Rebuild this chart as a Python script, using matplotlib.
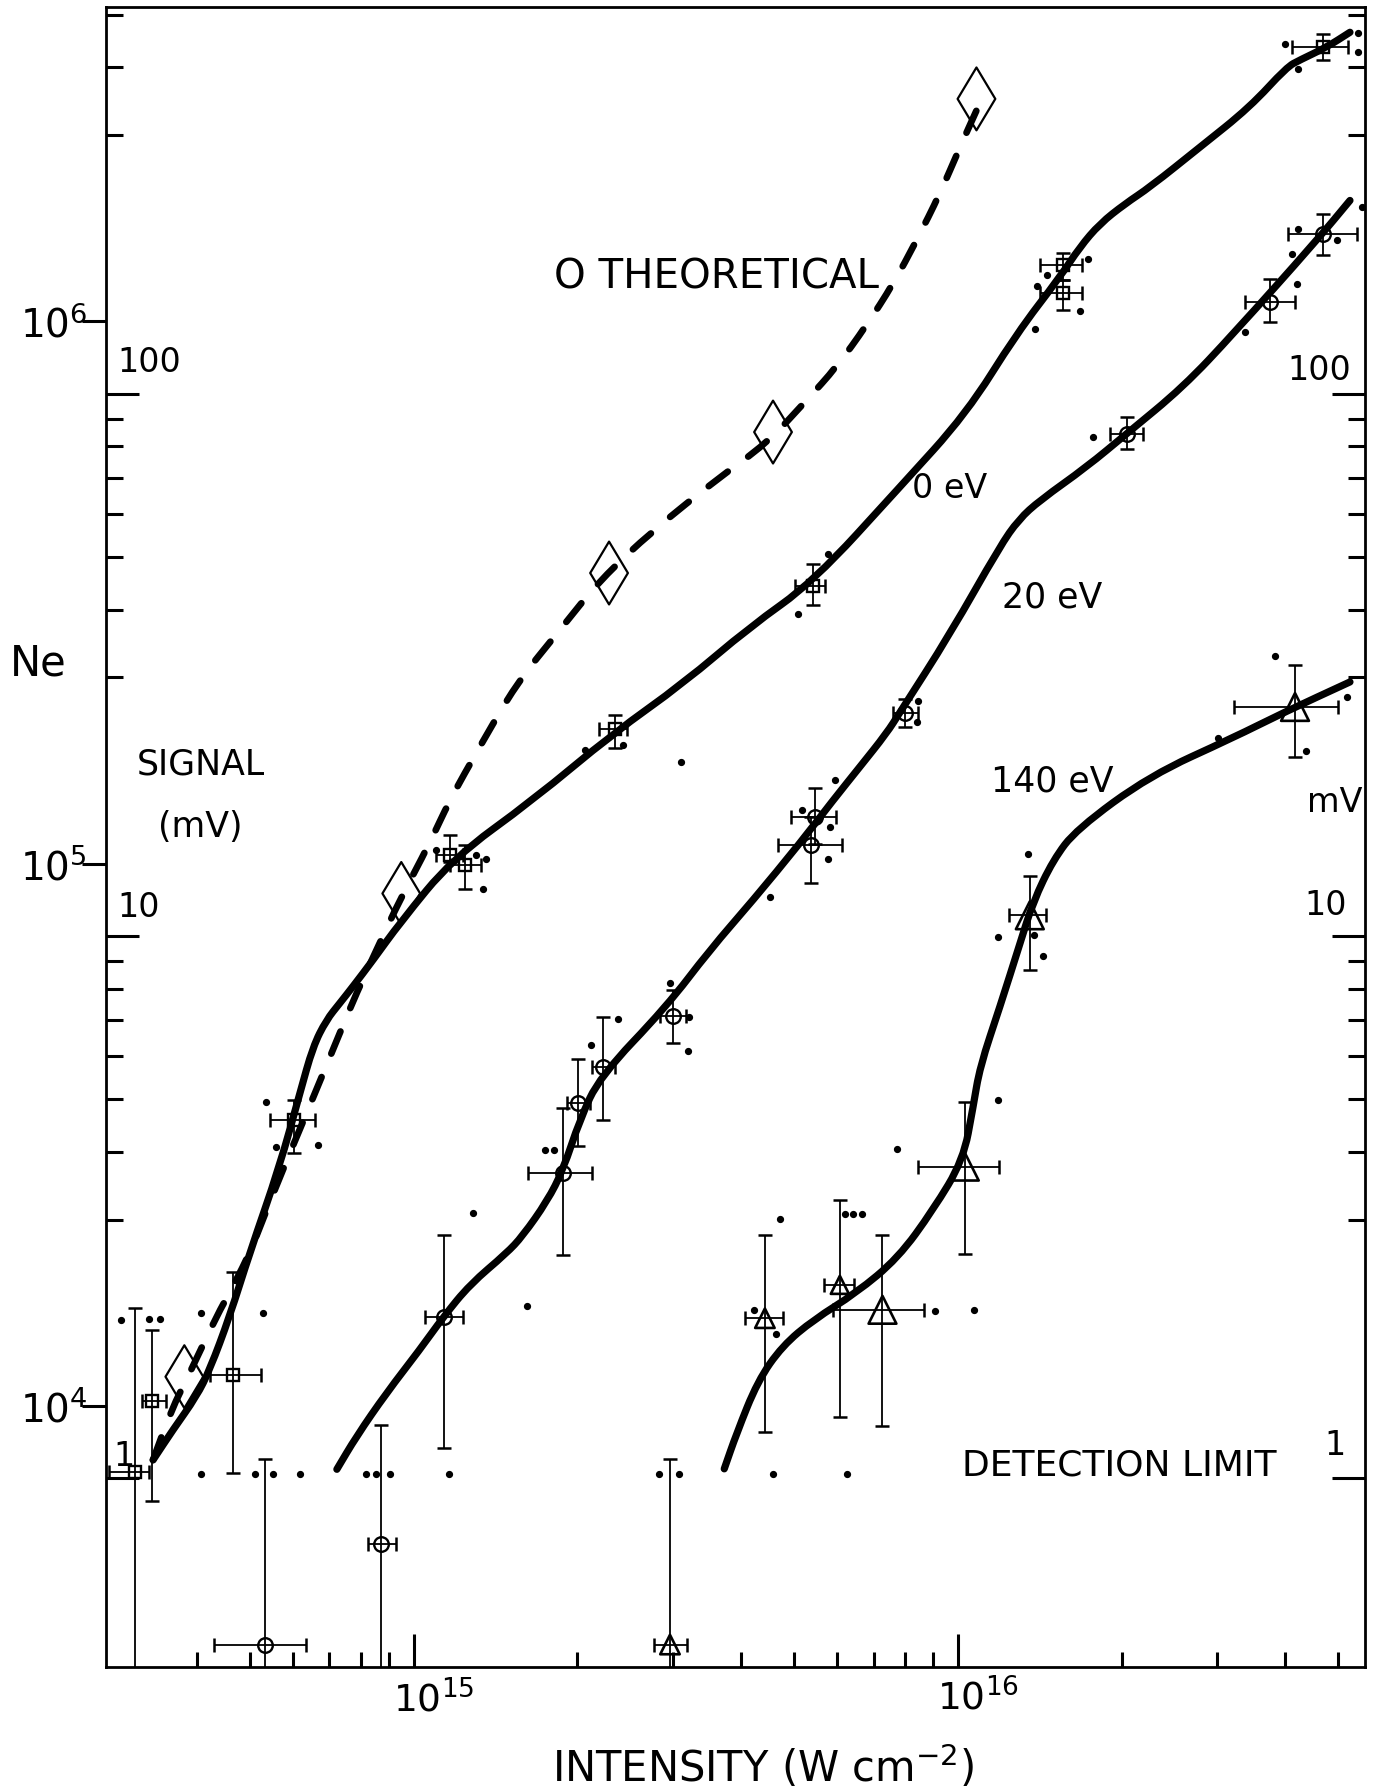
import matplotlib
matplotlib.use("Agg")
import numpy as np
import matplotlib.pyplot as plt
import matplotlib.transforms as mtransforms
from matplotlib.path import Path
from matplotlib.patches import PathPatch
from matplotlib.ticker import FixedLocator, NullLocator, NullFormatter

plt.rcParams['font.family'] = ['DejaVu Sans']
plt.rcParams['mathtext.fontset'] = 'dejavusans'

# ---------------- data (intensity W/cm^2, number of electrons Ne) ----------------
# 0 eV  (squares)
sq_I   = [3.07e14, 3.30e14, 4.65e14, 6.02e14, 1.165e15, 1.241e15, 2.342e15, 5.42e15, 1.563e16, 1.563e16, 4.69e16]
sq_Ilo = [2.76e14, 3.17e14, 4.22e14, 5.44e14, 1.10e15, 1.165e15, 2.19e15, 5.02e15, 1.415e16, 1.415e16, 4.105e16]
sq_Ihi = [3.26e14, 3.50e14, 5.24e14, 6.58e14, 1.232e15, 1.332e15, 2.47e15, 5.69e15, 1.688e16, 1.688e16, 5.22e16]
sq_Ne  = [7.56e3, 1.02e4, 1.141e4, 3.37e4, 1.037e5, 9.94e4, 1.775e5, 3.25e5, 1.268e6, 1.128e6, 3.203e6]
sq_Nlo = [3.0e3, 6.67e3, 7.52e3, 2.93e4, 1.009e5, 8.98e4, 1.631e5, 3.00e5, 1.192e6, 1.048e6, 3.035e6]
sq_Nhi = [1.515e4, 1.38e4, 1.765e4, 3.67e4, 1.128e5, 1.081e5, 1.877e5, 3.575e5, 1.336e6, 1.192e6, 3.39e6]

# 20 eV (circles)
ci_I   = [5.34e14, 8.72e14, 1.135e15, 1.881e15, 2.005e15, 2.229e15, 2.996e15, 5.46e15, 5.38e15, 7.99e15, 2.043e16, 3.745e16, 4.69e16]
ci_Ilo = [4.29e14, 8.24e14, 1.05e15, 1.623e15, 1.912e15, 2.126e15, 2.835e15, 4.945e15, 4.672e15, 7.61e15, 1.903e16, 3.372e16, 4.046e16]
ci_Ihi = [6.33e14, 9.27e14, 1.232e15, 2.126e15, 2.106e15, 2.342e15, 3.172e15, 5.984e15, 6.114e15, 8.46e15, 2.19e16, 4.165e16, 5.405e16]
ci_Ne  = [3.62e3, 5.575e3, 1.461e4, 2.692e4, 3.624e4, 4.224e4, 5.234e4, 1.2195e5, 1.082e5, 1.898e5, 6.206e5, 1.085e6, 1.45e6]
ci_Nlo = [3.0e3, 3.0e3, 8.37e3, 1.898e4, 3.02e4, 3.37e4, 4.664e4, 1.085e5, 9.20e4, 1.786e5, 5.823e5, 9.97e5, 1.323e6]
ci_Nhi = [7.98e3, 9.22e3, 2.07e4, 3.544e4, 4.365e4, 5.22e4, 5.84e4, 1.376e5, 1.218e5, 2.016e5, 6.663e5, 1.198e6, 1.579e6]

# 140 eV (triangles)
tr_I   = [2.958e15, 4.42e15, 6.07e15, 7.27e15, 1.030e16, 1.356e16, 4.165e16]
tr_Ilo = [2.767e15, 4.06e15, 5.667e15, 5.889e15, 8.45e15, 1.243e16, 3.22e16]
tr_Ihi = [3.175e15, 4.764e15, 6.457e15, 8.67e15, 1.191e16, 1.451e16, 4.989e16]
tr_Ne  = [3.63e3, 1.451e4, 1.672e4, 1.504e4, 2.762e4, 8.03e4, 1.945e5]
tr_Nlo = [3.0e3, 8.96e3, 9.54e3, 9.18e3, 1.907e4, 6.37e4, 1.57e5]
tr_Nhi = [7.98e3, 2.067e4, 2.398e4, 2.067e4, 3.64e4, 9.47e4, 2.32e5]

# theoretical (diamonds)
th_I  = [3.79e14, 9.49e14, 2.286e15, 4.575e15, 1.082e16]
th_Ne = [1.132e4, 8.81e4, 3.435e5, 6.25e5, 2.572e6]

# hand-drawn curves
c0_I  = [3.32e14, 3.61e14, 3.99e14, 4.22e14, 4.59e14, 4.995e14, 5.67e14, 6.18e14, 6.53e14, 6.91e14,
         7.313e14, 7.73e14, 8.42e14, 9.43e14, 1.18e15, 1.657e15, 2.325e15, 3.128e15, 4.147e15,
         5.42e15, 7.826e15, 1.037e16, 1.282e16, 1.54e16, 1.676e16, 1.824e16, 2.028e16, 2.254e16,
         2.785e16, 3.44e16, 4.02e16, 4.254e16, 4.76e16, 5.255e16]
c0_Ne = [7.95e3, 9.03e3, 1.041e4, 1.166e4, 1.461e4, 1.912e4, 2.762e4, 3.774e4, 4.597e4, 5.146e4,
         5.526e4, 5.93e4, 6.64e4, 7.77e4, 1.023e5, 1.31e5, 1.738e5, 2.149e5, 2.732e5,
         3.307e5, 4.95e5, 6.76e5, 9.49e5, 1.207e6, 1.371e6, 1.514e6, 1.647e6, 1.768e6,
         2.095e6, 2.483e6, 2.943e6, 3.035e6, 3.203e6, 3.413e6]

cth_I  = [3.32e14, 3.587e14, 3.876e14, 4.339e14, 4.656e14, 5.03e14, 5.513e14, 6.624e14, 7.313e14,
          7.847e14, 8.66e14, 9.43e14, 1.07e15, 1.165e15, 1.322e15, 1.545e15, 1.856e15, 2.198e15,
          2.754e15, 3.651e15, 4.451e15, 5.272e15, 5.985e15, 6.796e15, 7.61e15, 8.40e15, 9.27e15,
          1.009e16, 1.082e16]
cth_Ne = [7.95e3, 9.83e3, 1.149e4, 1.461e4, 1.66e4, 1.94e4, 2.465e4, 3.824e4, 4.866e4,
          5.765e4, 7.135e4, 8.565e4, 1.09e5, 1.31e5, 1.642e5, 2.149e5, 2.696e5, 3.331e5,
          4.118e5, 5.163e5, 5.952e5, 7.15e5, 8.236e5, 9.83e5, 1.173e6, 1.41e6, 1.719e6,
          2.095e6, 2.448e6]

c20_I  = [7.226e14, 7.847e14, 8.91e14, 1.026e15, 1.135e15, 1.269e15, 1.481e15, 1.585e15, 1.76e15,
          1.881e15, 2.02e15, 2.198e15, 2.914e15, 3.501e15, 4.205e15, 5.121e15, 5.899e15, 6.605e15,
          7.393e15, 7.826e15, 9.67e15, 1.195e16, 1.294e16, 1.415e16, 1.724e16, 2.043e16, 2.594e16,
          3.209e16, 4.565e16, 5.255e16]
c20_Ne = [7.64e3, 8.78e3, 1.056e4, 1.269e4, 1.461e4, 1.675e4, 1.912e4, 2.056e4, 2.387e4,
          2.72e4, 3.37e4, 4.047e4, 5.447e4, 6.93e4, 8.565e4, 1.089e5, 1.309e5, 1.508e5,
          1.738e5, 1.9e5, 2.648e5, 3.848e5, 4.312e5, 4.677e5, 5.388e5, 6.206e5, 7.566e5,
          9.49e5, 1.41e6, 1.671e6]

c140_I  = [3.722e15, 3.92e15, 4.287e15, 4.758e15, 5.437e15, 6.497e15, 7.765e15, 9.01e15, 1.023e16,
           1.067e16, 1.098e16, 1.195e16, 1.301e16, 1.375e16, 1.497e16, 1.652e16, 2.254e16, 3.209e16,
           3.963e16, 5.255e16]
c140_Ne = [7.655e3, 8.888e3, 1.111e4, 1.29e4, 1.443e4, 1.614e4, 1.873e4, 2.3e4, 2.841e4,
           3.561e4, 4.222e4, 5.447e4, 7.13e4, 8.5e4, 1.016e5, 1.157e5, 1.453e5, 1.708e5,
           1.898e5, 2.163e5]

# individual raw shots (small dots)
dot_I = [4.06e14, 5.10e14, 5.515e14, 6.18e14, 8.19e14, 8.53e14, 9.04e14, 1.161e15, 2.827e15, 3.069e15,
         4.571e15, 6.263e15,
         2.90e14, 3.263e14, 3.413e14, 4.07e14, 5.287e14, 5.346e14, 5.594e14, 6.672e14, 1.101e15,
         1.304e15, 1.36e15, 1.341e15, 1.285e15, 1.613e15, 1.744e15, 1.813e15, 2.122e15, 2.063e15,
         2.426e15, 3.097e15, 2.375e15, 2.955e15, 3.207e15, 3.193e15, 5.089e15, 5.776e15, 5.161e15,
         5.816e15, 5.776e15, 5.94e15, 4.512e15, 4.717e15, 6.2e15, 6.423e15, 6.653e15, 4.217e15,
         4.627e15, 9.074e15, 1.072e16, 7.717e15, 1.187e16, 1.183e16, 1.379e16, 1.431e16, 1.347e16,
         3.825e16, 4.362e16, 5.183e16, 3.01e16, 8.45e15, 8.40e15, 3.99e16, 4.222e16, 5.444e16,
         5.444e16, 1.456e16, 1.395e16, 1.731e16, 1.676e16, 1.385e16, 4.222e16, 5.521e16, 4.967e16,
         4.107e16, 4.193e16, 3.369e16, 1.773e16]
dot_Ne = [7.5e3, 7.5e3, 7.5e3, 7.5e3, 7.5e3, 7.5e3, 7.5e3, 7.5e3, 7.5e3, 7.5e3,
          7.5e3, 7.5e3,
          1.441e4, 1.445e4, 1.445e4, 1.483e4, 1.483e4, 3.64e4, 3.006e4, 3.028e4, 1.059e5,
          1.037e5, 1.018e5, 8.96e4, 2.266e4, 1.526e4, 2.97e4, 2.97e4, 4.63e4, 1.62e5,
          1.653e5, 1.54e5, 5.18e4, 6.015e4, 5.205e4, 4.52e4, 2.892e5, 3.72e5, 1.254e5,
          1.169e5, 1.022e5, 1.425e5, 8.69e4, 2.216e4, 2.256e4, 2.256e4, 2.256e4, 1.504e4,
          1.359e4, 1.497e4, 1.504e4, 2.973e4, 3.667e4, 7.31e4, 7.38e4, 6.75e4, 1.041e5,
          2.412e5, 1.614e5, 2.026e5, 1.708e5, 1.994e5, 1.823e5, 3.25e6, 2.922e6, 3.4e6,
          3.135e6, 1.216e6, 1.16e6, 1.305e6, 1.043e6, 9.69e5, 1.482e6, 1.624e6, 1.41e6,
          1.332e6, 1.17e6, 9.55e5, 6.12e5]

# axes, ticks and labels
x_lim = [2.72e14, 5.6e16]
y_lim = [3.3e3, 3.8e6]
x_major = [1e15, 1e16]
x_major_labels = ['$10^{15}$', '$10^{16}$']
x_minor = [4e14, 5e14, 6e14, 7e14, 8e14, 9e14, 2e15, 3e15, 4e15, 5e15, 6e15, 7e15, 8e15, 9e15,
           2e16, 3e16, 4e16, 5e16]
ne_major = [1e4, 1e5, 1e6]
ne_major_labels = ['$10^4$', '$10^5$', '$10^6$']
signal_per_mV = 7350.0            # electrons per mV of signal
mv_major = [1, 10, 100]
mv_major_labels = ['1', '10', '100']
mv_minor = [3, 4, 5, 6, 7, 8, 9, 30, 40, 50, 60, 70, 80, 90, 300, 400, 500]

# ---------------- figure ----------------
fig = plt.figure(figsize=(13.76, 17.89), dpi=100)
ax = fig.add_axes([0.0770, 0.0682, 0.9150, 0.9279])
ax.set_xscale('log')
ax.set_yscale('log')
ax.set_xlim(*x_lim)
ax.set_ylim(*y_lim)
ax.set_autoscale_on(False)

for s in ax.spines.values():
    s.set_linewidth(2.0)


def smooth_curve(xs, ys, **kw):
    """Draw a smooth (quadratic B-spline style) pen stroke guided by the read points."""
    lx, ly = np.log10(xs), np.log10(ys)
    verts = [(xs[0], ys[0])]
    codes = [Path.MOVETO]
    verts.append((10 ** ((lx[0] + lx[1]) / 2), 10 ** ((ly[0] + ly[1]) / 2)))
    codes.append(Path.LINETO)
    for i in range(1, len(xs) - 1):
        verts.append((xs[i], ys[i]))
        verts.append((10 ** ((lx[i] + lx[i + 1]) / 2), 10 ** ((ly[i] + ly[i + 1]) / 2)))
        codes += [Path.CURVE3, Path.CURVE3]
    verts.append((xs[-1], ys[-1]))
    codes.append(Path.LINETO)
    patch = PathPatch(Path(verts, codes), facecolor='none', edgecolor='k',
                      capstyle='round', joinstyle='round', zorder=2, **kw)
    ax.add_patch(patch)


LW = 5.2
smooth_curve(c0_I, c0_Ne, lw=LW)
smooth_curve(c20_I, c20_Ne, lw=LW)
smooth_curve(c140_I, c140_Ne, lw=LW)
smooth_curve(cth_I, cth_Ne, lw=4.8, linestyle=(0, (3.6, 3.8)))


def err(v, lo, hi):
    v = np.asarray(v); lo = np.asarray(lo); hi = np.asarray(hi)
    return np.vstack([v - lo, hi - v])


eb_kw = dict(fmt='none', ecolor='k', elinewidth=1.3, capsize=5, capthick=1.8, zorder=3)
ax.errorbar(sq_I, sq_Ne, xerr=err(sq_I, sq_Ilo, sq_Ihi), yerr=err(sq_Ne, sq_Nlo, sq_Nhi), **eb_kw)
ax.errorbar(ci_I, ci_Ne, xerr=err(ci_I, ci_Ilo, ci_Ihi), yerr=err(ci_Ne, ci_Nlo, ci_Nhi), **eb_kw)
ax.errorbar(tr_I, tr_Ne, xerr=err(tr_I, tr_Ilo, tr_Ihi), yerr=err(tr_Ne, tr_Nlo, tr_Nhi), **eb_kw)

ax.plot(sq_I, sq_Ne, ls='none', marker='s', ms=9, mfc='none', mec='k', mew=1.7, zorder=4)
ax.plot(ci_I, ci_Ne, ls='none', marker='o', ms=10.5, mfc='none', mec='k', mew=1.7, zorder=4)
tri_sizes = [14, 14, 13, 20, 20, 20, 20]
ax.scatter(tr_I, tr_Ne, s=np.array(tri_sizes) ** 2, marker='^', facecolors='none',
           edgecolors='k', linewidths=1.9, zorder=4)
ax.scatter(th_I, th_Ne, s=32 ** 2, marker='d', facecolors='none', edgecolors='k',
           linewidths=1.6, zorder=4)
ax.plot(dot_I, dot_Ne, ls='none', marker='o', ms=4.2, color='k', zorder=3)

# x ticks
ax.xaxis.set_major_locator(FixedLocator(x_major))
ax.xaxis.set_minor_locator(FixedLocator(x_minor))
ax.xaxis.set_minor_formatter(NullFormatter())
ax.set_xticklabels(x_major_labels)
ax.tick_params(axis='x', which='major', direction='in', length=24, width=2.2, labelsize=27,
               pad=9, top=False)
ax.tick_params(axis='x', which='minor', direction='in', length=11, width=2.2, top=False)
for lab in ax.get_xticklabels():
    lab.set_transform(lab.get_transform() +
                      mtransforms.ScaledTranslation(0.20, 0, fig.dpi_scale_trans))

# Ne ticks (outward, left)
ax.yaxis.set_major_locator(FixedLocator(ne_major))
ax.yaxis.set_minor_locator(NullLocator())
ax.set_yticklabels(ne_major_labels)
ax.tick_params(axis='y', which='major', direction='out', length=17, width=2.2, labelsize=28,
               pad=-3.5, right=False)

# signal (mV) ticks, inward on both sides
ax2 = ax.twinx()
ax2.set_yscale('log')
ax2.set_ylim(y_lim[0] / signal_per_mV, y_lim[1] / signal_per_mV)
ax2.yaxis.set_major_locator(FixedLocator(mv_major))
ax2.yaxis.set_minor_locator(FixedLocator(mv_minor))
ax2.yaxis.set_major_formatter(NullFormatter())
ax2.yaxis.set_minor_formatter(NullFormatter())
ax2.tick_params(axis='y', which='both', left=True, right=True, direction='in',
                labelleft=False, labelright=False)
ax2.tick_params(axis='y', which='major', length=24, width=2.2)
ax2.tick_params(axis='y', which='minor', length=12, width=2.2)
for s in ax2.spines.values():
    s.set_visible(False)

left_offsets = [(5, 4), (8, 9), (8, 11)]
right_offsets = [(-14, 12), (-13, 10), (-10, 5)]
for v, lab, lo, ro in zip(mv_major, mv_major_labels, left_offsets, right_offsets):
    ax2.annotate(lab, xy=(0, v), xycoords=('axes fraction', 'data'), xytext=lo,
                 textcoords='offset points', ha='left', va='bottom', fontsize=24)
    ax2.annotate(lab, xy=(1, v), xycoords=('axes fraction', 'data'), xytext=ro,
                 textcoords='offset points', ha='right', va='bottom', fontsize=24)

# in-plot text
ax.text(1.813e15, 1.207e6, 'O THEORETICAL', fontsize=29, va='center', ha='left')
ax.text(8.22e15, 4.914e5, '0 eV', fontsize=24, va='center', ha='left')
ax.text(1.204e16, 3.09e5, '20 eV', fontsize=25, va='center', ha='left')
ax.text(1.153e16, 1.417e5, '140 eV', fontsize=25, va='center', ha='left')
ax.text(4.39e16, 1.298e5, 'mV', fontsize=24, va='center', ha='left')
ax.text(3.096e14, 1.522e5, 'SIGNAL', fontsize=25, va='center', ha='left')
ax.text(3.394e14, 1.167e5, '(mV)', fontsize=25, va='center', ha='left')
ax.text(1.017e16, 7.77e3, 'DETECTION LIMIT', fontsize=26, va='center', ha='left')

fig.text(0.0073, 1 - 664 / 1789, 'Ne', fontsize=30, va='center', ha='left')
fig.text(0.5545, 1 - 1767 / 1789, 'INTENSITY (W cm$^{-2}$)', fontsize=30, va='center', ha='center')

fig.savefig('out.png', dpi=100)
